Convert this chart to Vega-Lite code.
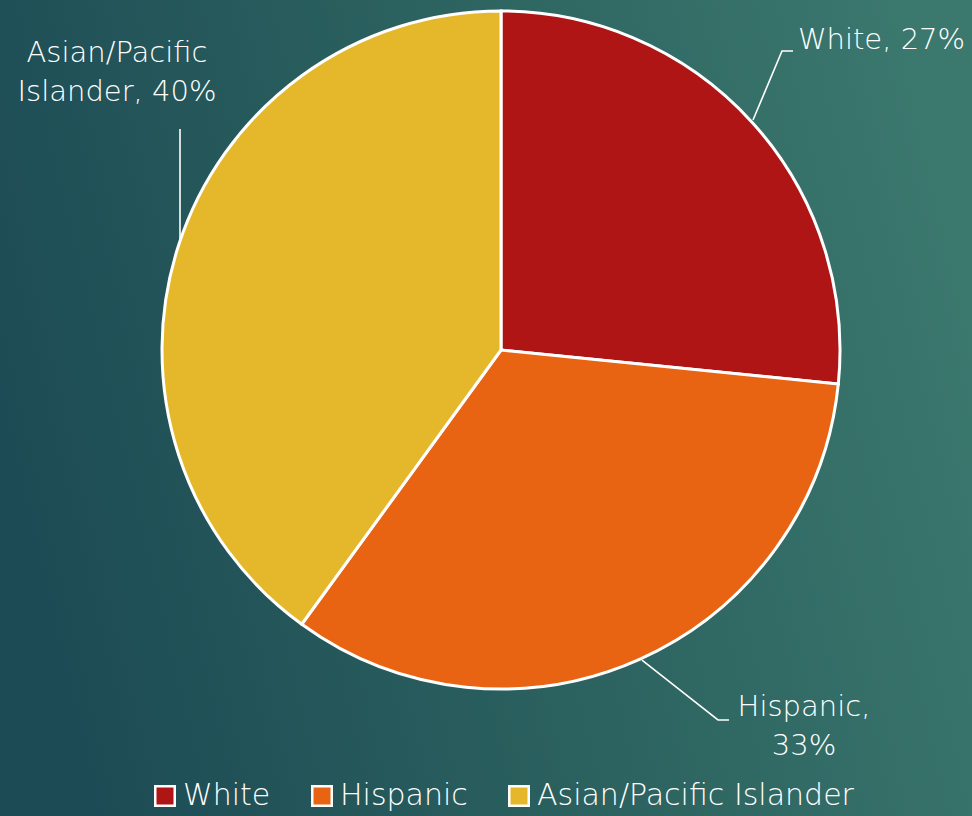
{
  "$schema": "https://vega.github.io/schema/vega-lite/v6.json",
  "width": 972,
  "height": 816,
  "padding": 0,
  "autosize": {"type": "none"},
  "background": "#2a5f5f",
  "config": {
    "view": {
      "stroke": null,
      "fill": {
        "gradient": "linear",
        "x1": 0, "y1": 0.55, "x2": 1, "y2": 0.35,
        "stops": [
          {"offset": 0, "color": "#1d4b55"},
          {"offset": 0.5, "color": "#2b615f"},
          {"offset": 1, "color": "#3b786e"}
        ]
      }
    },
    "text": {"font": "DejaVu Sans"}
  },
  "datasets": {
    "slices": [
      {"group": "White", "pct": 26.6, "ord": 1},
      {"group": "Hispanic", "pct": 33.4, "ord": 2},
      {"group": "Asian/Pacific Islander", "pct": 40.0, "ord": 3}
    ],
    "leaders": [
      {"group": "White", "px": 0.7434, "py": 0.6785, "k": 1},
      {"group": "White", "px": 0.8289, "py": 0.8820, "k": 2},
      {"group": "White", "px": 0.8614, "py": 0.8820, "k": 3},
      {"group": "Asian/Pacific Islander", "px": -0.9469, "py": 0.6519, "k": 1},
      {"group": "Asian/Pacific Islander", "px": -0.9469, "py": 0.3245, "k": 2},
      {"group": "Hispanic", "px": 0.4159, "py": -0.9145, "k": 1},
      {"group": "Hispanic", "px": 0.6401, "py": -1.0914, "k": 2},
      {"group": "Hispanic", "px": 0.6726, "py": -1.0914, "k": 3}
    ],
    "labels": [
      {"txt": "White, 27%", "lx": 1.1224, "ly": 0.9145},
      {"txt": "Asian/Pacific\nIslander, 40%", "lx": -1.1327, "ly": 0.8761},
      {"txt": "Hispanic,\n33%", "lx": 0.8938, "ly": -1.0531}
    ]
  },
  "layer": [
    {
      "data": {"name": "slices"},
      "mark": {"type": "arc", "outerRadius": 339, "stroke": "white", "strokeWidth": 3},
      "encoding": {
        "x": {"datum": 0, "type": "quantitative", "scale": {"domain": [-1.4779, 1.3894], "nice": false, "zero": false}, "axis": null},
        "y": {"datum": 0, "type": "quantitative", "scale": {"domain": [-1.3746, 1.0324], "nice": false, "zero": false}, "axis": null},
        "theta": {"field": "pct", "type": "quantitative", "stack": true},
        "order": {"field": "ord", "type": "quantitative"},
        "color": {
          "field": "group",
          "type": "nominal",
          "scale": {"domain": ["White", "Hispanic", "Asian/Pacific Islander"], "range": ["#b01515", "#e86413", "#e5b72a"]},
          "legend": {
            "title": null,
            "orient": "none",
            "legendX": 150,
            "legendY": 781,
            "direction": "horizontal",
            "symbolType": "square",
            "symbolSize": 380,
            "symbolStrokeColor": "white",
            "symbolStrokeWidth": 2.5,
            "symbolOpacity": 1,
            "labelFontSize": 30,
            "labelColor": "white",
            "labelFont": "DejaVu Sans",
            "labelFontWeight": 200,
            "labelOffset": 3,
            "labelLimit": 500,
            "columnPadding": 36
          }
        }
      }
    },
    {
      "data": {"name": "leaders"},
      "mark": {"type": "line", "color": "white", "strokeWidth": 1.6},
      "encoding": {
        "x": {"field": "px", "type": "quantitative", "axis": null},
        "y": {"field": "py", "type": "quantitative", "axis": null},
        "detail": {"field": "group"},
        "order": {"field": "k", "type": "quantitative"}
      }
    },
    {
      "data": {"name": "labels"},
      "mark": {"type": "text", "color": "white", "fontSize": 29, "fontWeight": 200, "align": "center", "baseline": "middle", "lineBreak": "\n", "lineHeight": 39},
      "encoding": {
        "x": {"field": "lx", "type": "quantitative", "axis": null},
        "y": {"field": "ly", "type": "quantitative", "axis": null},
        "text": {"field": "txt"}
      }
    }
  ]
}
